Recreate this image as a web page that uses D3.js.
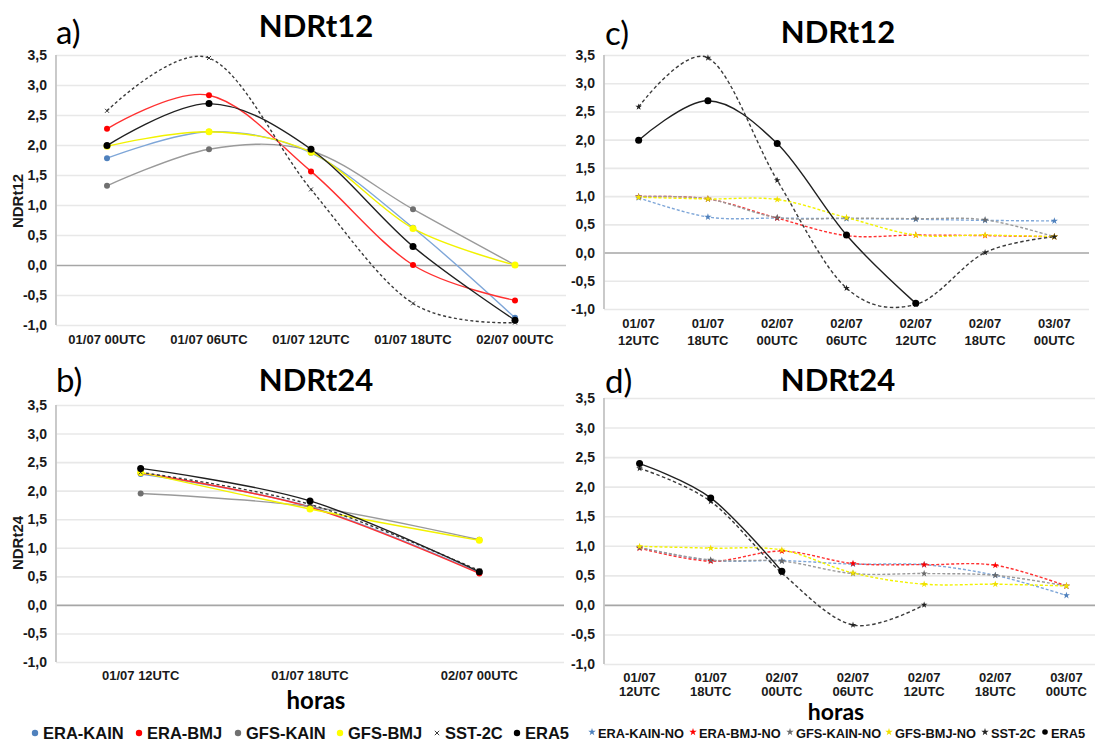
<!DOCTYPE html>
<html><head><meta charset="utf-8">
<script src="https://cdn.jsdelivr.net/npm/d3@7"></script>
<style>body{margin:0;background:#fff}svg{display:block}</style>
</head><body><svg id="chart" width="1095" height="742"></svg>
<script>
// ---------- categories & ticks ----------
const catsA = ["01/07 00UTC","01/07 06UTC","01/07 12UTC","01/07 18UTC","02/07 00UTC"];
const catsB = ["01/07 12UTC","01/07 18UTC","02/07 00UTC"];
const catsCD = [["01/07","12UTC"],["01/07","18UTC"],["02/07","00UTC"],["02/07","06UTC"],["02/07","12UTC"],["02/07","18UTC"],["03/07","00UTC"]];
const yTicks = [3.5,3.0,2.5,2.0,1.5,1.0,0.5,0.0,-0.5,-1.0];
const yTickLabels = ["3,5","3,0","2,5","2,0","1,5","1,0","0,5","0,0","-0,5","-1,0"];

// ---------- panel a (NDRt12) ----------
const a_eraKain = [1.78, 2.22, 1.87, 0.62, -0.88];
const a_eraBmj  = [2.27, 2.83, 1.56, 0.00, -0.59];
const a_gfsKain = [1.32, 1.93, 1.90, 0.93, 0.00];
const a_gfsBmj  = [1.98, 2.22, 1.88, 0.61, 0.00];
const a_sst2c   = [2.57, 3.45, 1.26, -0.64, -0.96];
const a_era5    = [1.99, 2.69, 1.93, 0.31, -0.92];

// ---------- panel b (NDRt24) ----------
const b_eraKain = [2.29, 1.72, 0.56];
const b_eraBmj  = [2.31, 1.71, 0.55];
const b_gfsKain = [1.95, 1.72, 1.14];
const b_gfsBmj  = [2.32, 1.68, 1.13];
const b_sst2c   = [2.32, 1.76, 0.60];
const b_era5    = [2.39, 1.82, 0.58];

// ---------- panel c (NDRt12, NO runs) ----------
const c_eraKainNo = [0.97, 0.63, 0.61, 0.60, 0.59, 0.57, 0.56];
const c_eraBmjNo  = [0.99, 0.95, 0.61, 0.30, 0.31, 0.30, 0.28];
const c_gfsKainNo = [0.99, 0.95, 0.62, 0.61, 0.60, 0.58, 0.28];
const c_gfsBmjNo  = [0.98, 0.95, 0.94, 0.62, 0.31, 0.31, 0.28];
const c_sst2c     = [2.58, 3.45, 1.28, -0.63, -0.92, 0.00, 0.28];
const c_era5      = [1.99, 2.69, 1.93, 0.31, -0.90, null, null];

// ---------- panel d (NDRt24, NO runs) ----------
const d_eraKainNo = [0.97, 0.75, 0.75, 0.69, 0.68, 0.50, 0.16];
const d_eraBmjNo  = [0.96, 0.74, 0.91, 0.70, 0.68, 0.67, 0.32];
const d_gfsKainNo = [0.97, 0.76, 0.74, 0.53, 0.53, 0.50, 0.32];
const d_gfsBmjNo  = [0.99, 0.96, 0.93, 0.54, 0.35, 0.35, 0.32];
const d_sst2c     = [2.31, 1.75, 0.54, -0.34, 0.00, null, null];
const d_era5      = [2.39, 1.81, 0.57, null, null, null, null];

// ---------- legends ----------
const legend1 = ["ERA-KAIN","ERA-BMJ","GFS-KAIN","GFS-BMJ","SST-2C","ERA5"];
const legend2 = ["ERA-KAIN-NO","ERA-BMJ-NO","GFS-KAIN-NO","GFS-BMJ-NO","SST-2C","ERA5"];

// ---------- styles ----------
const styleAB = [
  {line:"#7ea6d8", fill:"#4f81bd", dash:null, mark:"dot", r:3},
  {line:"#ff3030", fill:"#ff0000", dash:null, mark:"dot", r:3},
  {line:"#9a9a9a", fill:"#707070", dash:null, mark:"dot", r:3},
  {line:"#f2f200", fill:"#ffff00", dash:null, mark:"dot", r:3.5},
  {line:"#3a3a3a", fill:"#3a3a3a", dash:"3,2.5", mark:"x", r:2},
  {line:"#202020", fill:"#000000", dash:null, mark:"dot", r:3.5}
];
const styleCD = [
  {line:"#7ea6d8", fill:"#4f81bd", dash:"3,2", mark:"star", r:1.6},
  {line:"#ff3030", fill:"#ff0000", dash:"3,2", mark:"star", r:1.6},
  {line:"#9a9a9a", fill:"#6a6a6a", dash:"3,2", mark:"star", r:1.6},
  {line:"#f2f200", fill:"#f0e000", dash:"3,2", mark:"star", r:1.6},
  {line:"#3a3a3a", fill:"#222222", dash:"3.5,2.5", mark:"star", r:1.5},
  {line:"#202020", fill:"#000000", dash:null, mark:"dot", r:3.5}
];

const svg = d3.select("#chart");
const TICKFONT = "'Liberation Sans', Arial, sans-serif";
const TITLEFONT = "Lato, 'Open Sans', sans-serif";

function drawMarker(g, type, cx, cy, r, color){
  if(type==="dot"){
    g.append("circle").attr("cx",cx).attr("cy",cy).attr("r",r).attr("fill",color);
  } else if(type==="x"){
    g.append("path").attr("d",`M${cx-r},${cy-r}L${cx+r},${cy+r}M${cx-r},${cy+r}L${cx+r},${cy-r}`)
      .attr("stroke",color).attr("stroke-width",1).attr("fill","none");
  } else {
    g.append("path").attr("d",d3.symbol(d3.symbolStar, r*r*6)())
      .attr("transform",`translate(${cx},${cy})`).attr("fill",color);
  }
}

function panel(cfg){
  const g = svg.append("g");
  const idx = cfg.cats.map((c,i)=>i);
  const x = d3.scalePoint().domain(idx).range([cfg.left,cfg.right]).padding(0.5);
  const y = d3.scaleLinear().domain([-1,3.5]).range([cfg.bottom,cfg.top]);
  // gridlines
  g.append("g").attr("transform",`translate(${cfg.left},0)`)
    .call(d3.axisLeft(y).tickValues(yTicks).tickSize(-(cfg.right-cfg.left)).tickFormat(""))
    .call(s=>s.select(".domain").remove())
    .call(s=>s.selectAll("line").attr("stroke",d=>d===0?"#a6a6a6":"#e8e8e8").attr("stroke-width",1.6));
  // y axis line
  g.append("line").attr("x1",cfg.left).attr("x2",cfg.left).attr("y1",y(3.5)).attr("y2",y(-1))
    .attr("stroke","#c4c4c4").attr("stroke-width",1.8);
  // y tick labels
  g.append("g").attr("transform",`translate(${cfg.left},0)`)
    .call(d3.axisLeft(y).tickValues(yTicks).tickSize(0).tickPadding(cfg.left-cfg.labelRight)
      .tickFormat(d=>yTickLabels[yTicks.indexOf(d)]))
    .call(s=>s.select(".domain").remove())
    .call(s=>s.selectAll("text").attr("font-family",TICKFONT).attr("font-weight","bold")
      .attr("font-size",14).attr("fill","#1a1a1a"));
  // x labels
  cfg.cats.forEach((c,i)=>{
    const lines = Array.isArray(c)?c:[c];
    lines.forEach((t,j)=>{
      g.append("text").attr("x",x(i)).attr("y",cfg.xLabelY[j]).attr("text-anchor","middle")
        .attr("font-family",TICKFONT).attr("font-weight","bold").attr("font-size",13)
        .attr("fill","#1a1a1a").text(t);
    });
  });
  // series
  const line = d3.line().defined(d=>d!=null).x((d,i)=>x(i)).y(d=>y(d)).curve(d3.curveCatmullRom.alpha(0));
  cfg.series.forEach((vals,k)=>{
    const st = cfg.styles[k];
    g.append("path").attr("d",line(vals)).attr("fill","none").attr("stroke",st.line)
      .attr("stroke-width",1.4).attr("stroke-dasharray",st.dash);
  });
  cfg.series.forEach((vals,k)=>{
    const st = cfg.styles[k];
    vals.forEach((v,i)=>{ if(v!=null) drawMarker(g, st.mark, x(i), y(v), st.r, st.fill); });
  });
  // title & letter
  g.append("text").attr("x",cfg.titleX).attr("y",cfg.titleY).attr("text-anchor","middle")
    .attr("font-family",TITLEFONT).attr("font-weight","bold").attr("font-size",31).attr("fill","#000").text(cfg.title);
  g.append("text").attr("x",cfg.letterX).attr("y",cfg.letterY)
    .attr("font-family",TITLEFONT).attr("font-size",33).attr("fill","#000").text(cfg.letter);
  if(cfg.yTitle){
    g.append("text").attr("transform",`translate(${cfg.yTitleX},${cfg.yTitleY}) rotate(-90)`)
      .attr("text-anchor","middle").attr("font-family",TICKFONT).attr("font-weight","bold")
      .attr("font-size",15).attr("fill","#1a1a1a").text(cfg.yTitle);
  }
}

panel({cats:catsA, left:56, right:566, top:55, bottom:325, labelRight:47, xLabelY:[344],
  series:[a_eraKain,a_eraBmj,a_gfsKain,a_gfsBmj,a_sst2c,a_era5], styles:styleAB,
  title:"NDRt12", titleX:316, titleY:37, letter:"a)", letterX:56, letterY:44,
  yTitle:"NDRt12", yTitleX:23, yTitleY:201});
panel({cats:catsB, left:56, right:564, top:405, bottom:662, labelRight:47, xLabelY:[680],
  series:[b_eraKain,b_eraBmj,b_gfsKain,b_gfsBmj,b_sst2c,b_era5], styles:styleAB,
  title:"NDRt24", titleX:316, titleY:391, letter:"b)", letterX:56, letterY:392,
  yTitle:"NDRt24", yTitleX:23, yTitleY:543});
panel({cats:catsCD, left:604, right:1089, top:55, bottom:309, labelRight:595, xLabelY:[328,345],
  series:[c_eraKainNo,c_eraBmjNo,c_gfsKainNo,c_gfsBmjNo,c_sst2c,c_era5], styles:styleCD,
  title:"NDRt12", titleX:838, titleY:43, letter:"c)", letterX:605, letterY:45});
panel({cats:catsCD, left:604, right:1102, top:398, bottom:664, labelRight:595, xLabelY:[682,696],
  series:[d_eraKainNo,d_eraBmjNo,d_gfsKainNo,d_gfsBmjNo,d_sst2c,d_era5], styles:styleCD,
  title:"NDRt24", titleX:838, titleY:391, letter:"d)", letterX:605, letterY:393});

// axis titles "horas"
[[316,709,24],[836,720,23]].forEach(p=>{
  svg.append("text").attr("x",p[0]).attr("y",p[1]).attr("text-anchor","middle")
    .attr("font-family",TITLEFONT).attr("font-weight","bold").attr("font-size",p[2]).attr("fill","#000").text("horas");
});

// legends
const leg1X = [35,139,238,340,437,517];
legend1.forEach((t,i)=>{
  const st = styleAB[i];
  const g = svg.append("g");
  drawMarker(g, st.mark, leg1X[i], 733, st.mark==="x"?2.2:3.2, st.fill);
  g.append("text").attr("x",leg1X[i]+8).attr("y",739).attr("font-family",TICKFONT)
    .attr("font-weight","bold").attr("font-size",16.5).attr("fill","#111").text(t);
});
const leg2X = [592,693,790,889,985,1045];
legend2.forEach((t,i)=>{
  const st = styleCD[i];
  const g = svg.append("g");
  drawMarker(g, st.mark, leg2X[i], 732, st.mark==="dot"?2.8:1.7, st.fill);
  g.append("text").attr("x",leg2X[i]+6).attr("y",737.5).attr("font-family",TICKFONT)
    .attr("font-weight","bold").attr("font-size",12.8).attr("fill","#111").text(t);
});
</script></body></html>
